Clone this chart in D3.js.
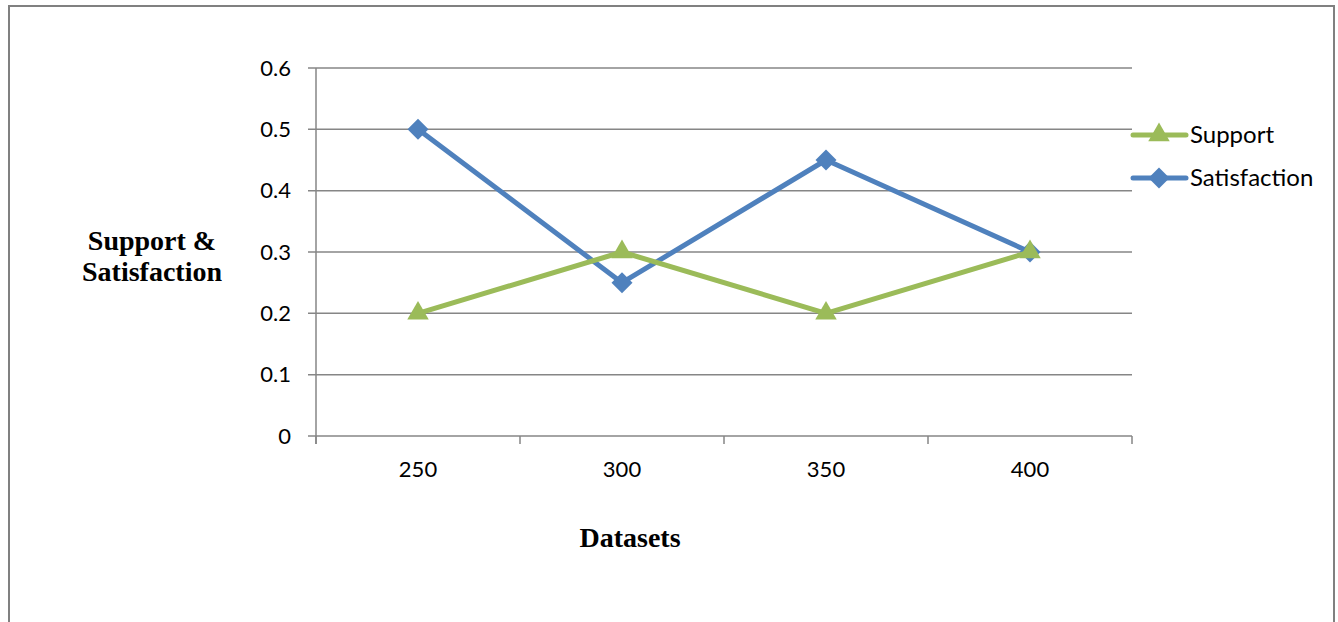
<!DOCTYPE html>
<html>
<head>
<meta charset="utf-8">
<script src="https://cdn.jsdelivr.net/npm/d3@7"></script>
<style>
html,body{margin:0;padding:0;background:#fff;overflow:hidden;}
svg{display:block;}
</style>
</head>
<body>
<svg id="chart" width="1338" height="622"></svg>
<script>
const categories = ["250", "300", "350", "400"];
const supportValues = [0.2, 0.3, 0.2, 0.3];
const satisfactionValues = [0.5, 0.25, 0.45, 0.3];
const yTicks = [0, 0.1, 0.2, 0.3, 0.4, 0.5, 0.6];
const seriesNames = ["Support", "Satisfaction"];

(function () {
const svg = d3.select("#chart");
const plotLeft = 316, plotRight = 1132, plotTop = 68, plotBottom = 436;
const gridColor = "#868686";
const labelFont = "Lato, 'Open Sans', sans-serif";
const titleFont = "'Liberation Serif', 'Times New Roman', serif";

// outer border
svg.append("rect").attr("x", 9).attr("y", 6).attr("width", 1325).attr("height", 640)
  .attr("fill", "none").attr("stroke", "#808080").attr("stroke-width", 2);

const x = d3.scaleBand().domain(categories).range([plotLeft, plotRight]);
const y = d3.scaleLinear().domain([0, 0.6]).range([plotBottom, plotTop]);

// gridlines
svg.append("g").selectAll("line").data(yTicks).join("line")
  .attr("x1", plotLeft - 8).attr("x2", plotRight)
  .attr("y1", d => y(d)).attr("y2", d => y(d))
  .attr("stroke", gridColor).attr("stroke-width", 1.5);

// y axis line
svg.append("line").attr("x1", plotLeft).attr("x2", plotLeft).attr("y1", plotTop).attr("y2", plotBottom + 8)
  .attr("stroke", gridColor).attr("stroke-width", 1.5);

// x tick marks at band boundaries
const bounds = categories.map(c => x(c)).concat([plotRight]);
svg.append("g").selectAll("line").data(bounds).join("line")
  .attr("x1", d => d).attr("x2", d => d).attr("y1", plotBottom).attr("y2", plotBottom + 8)
  .attr("stroke", gridColor).attr("stroke-width", 1.5);

// y tick labels
svg.append("g").selectAll("text").data(yTicks).join("text")
  .attr("x", 291).attr("y", d => y(d)).attr("dy", "0.35em")
  .attr("text-anchor", "end").attr("font-family", labelFont).attr("font-size", 22)
  .attr("fill", "#000").text(d => d === 0 ? "0" : d3.format(".1f")(d));

// x tick labels
svg.append("g").selectAll("text").data(categories).join("text")
  .attr("x", d => x(d) + x.bandwidth() / 2).attr("y", 469).attr("dy", "0.35em")
  .attr("text-anchor", "middle").attr("font-family", labelFont).attr("font-size", 22)
  .attr("fill", "#000").text(d => d);

// axis titles
const yt = svg.append("text").attr("text-anchor", "middle").attr("font-family", titleFont)
  .attr("font-size", 28).attr("font-weight", "bold").attr("fill", "#000");
yt.append("tspan").attr("x", 152).attr("y", 250).text("Support &");
yt.append("tspan").attr("x", 152).attr("y", 281).text("Satisfaction");

svg.append("text").attr("x", 630).attr("y", 547).attr("text-anchor", "middle")
  .attr("font-family", titleFont).attr("font-size", 28).attr("font-weight", "bold")
  .attr("fill", "#000").text("Datasets");

const colors = {Support: "#9BBB59", Satisfaction: "#4F81BD"};
const line = d3.line().x((d, i) => x(categories[i]) + x.bandwidth() / 2).y(d => y(d));

const triangle = d3.symbol().type(d3.symbolTriangle).size(200);
const diamond = d3.symbol().type(d3.symbolSquare).size(220);

function drawSeries(name, values, sym, rot) {
  svg.append("path").datum(values).attr("d", line).attr("fill", "none")
    .attr("stroke", colors[name]).attr("stroke-width", 5).attr("stroke-linejoin", "round");
  svg.append("g").selectAll("path").data(values).join("path")
    .attr("d", sym)
    .attr("transform", (d, i) => `translate(${x(categories[i]) + x.bandwidth() / 2},${y(d)}) rotate(${rot})`)
    .attr("fill", colors[name]);
}
drawSeries("Satisfaction", satisfactionValues, diamond, 45);
drawSeries("Support", supportValues, triangle, 0);

// legend
const legendY = [135, 178];
const legendSym = [triangle, diamond];
const legendRot = [0, 45];
seriesNames.forEach((n, i) => {
  const g = svg.append("g");
  g.append("line").attr("x1", 1133).attr("x2", 1186).attr("y1", legendY[i]).attr("y2", legendY[i])
    .attr("stroke", colors[n]).attr("stroke-width", 5).attr("stroke-linecap", "round");
  g.append("path").attr("d", legendSym[i])
    .attr("transform", `translate(1159,${legendY[i]}) rotate(${legendRot[i]})`).attr("fill", colors[n]);
  g.append("text").attr("x", 1190).attr("y", legendY[i]).attr("dy", "0.35em")
    .attr("font-family", labelFont).attr("font-size", 24).attr("fill", "#000").text(n);
});
})();
</script>
</body>
</html>
